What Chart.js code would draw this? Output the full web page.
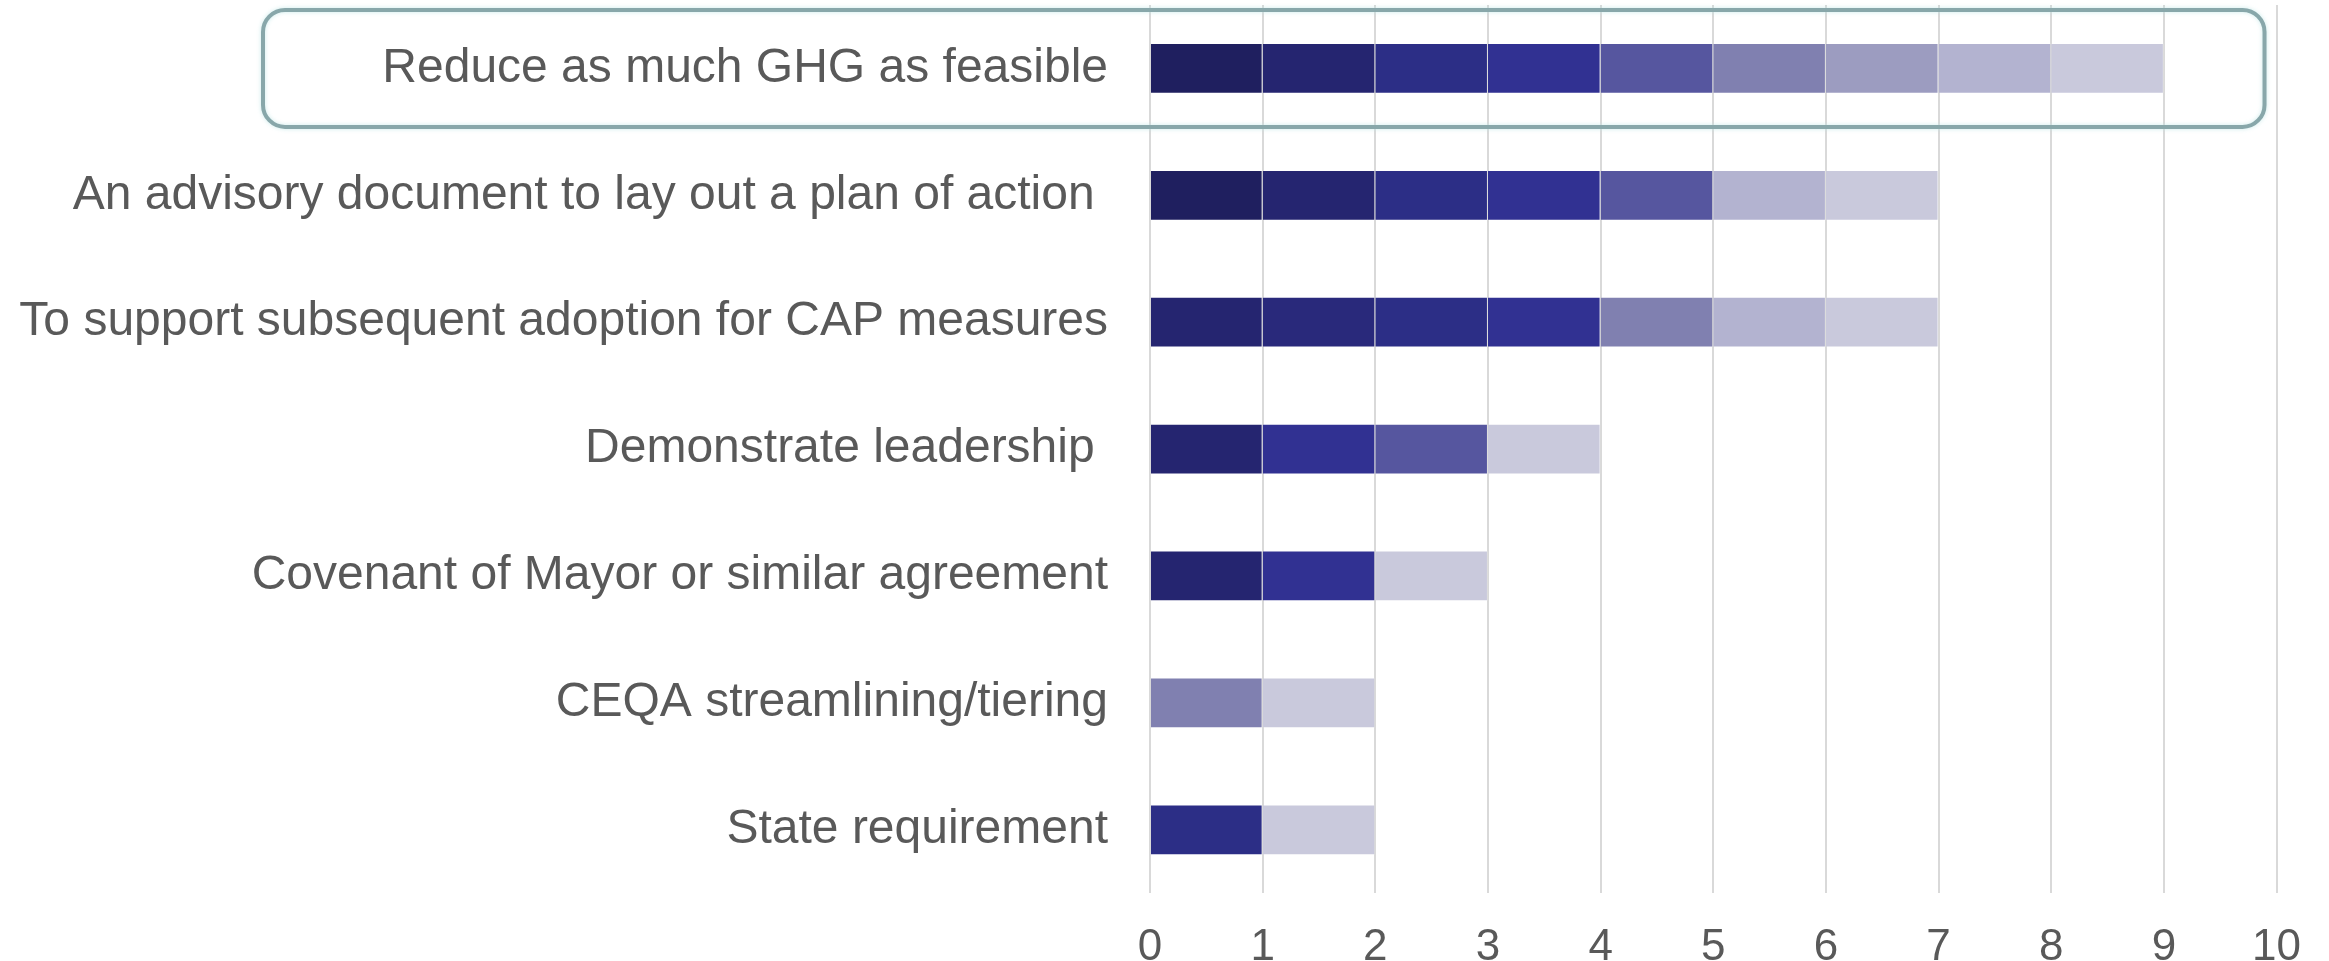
<!DOCTYPE html>
<html lang="en">
<head>
<meta charset="UTF-8">
<title>CAP motivations</title>
<script src="https://cdn.jsdelivr.net/npm/chart.js@4.4.1/dist/chart.umd.min.js"></script>
<style>
html, body {
    margin: 0;
    padding: 0;
    background: #ffffff;
    overflow: hidden;
}
#wrap {
    width: 2329px;
    height: 961px;
    overflow: hidden;
}
</style>
</head>
<body>

<div id="wrap">
    <canvas id="capChart" width="2329" height="1002"></canvas>
</div>

<script>
// categories, top to bottom (two of them end with a space in the source)
const categories = [
    "Reduce as much GHG as feasible",
    "An advisory document to lay out a plan of action ",
    "To support subsequent adoption for CAP measures",
    "Demonstrate leadership ",
    "Covenant of Mayor or similar agreement",
    "CEQA streamlining/tiering",
    "State requirement"
];

// one series per shade, darkest first (null = no segment)
const seriesNames = ["S1", "S2", "S3", "S4", "S5", "S6", "S7", "S8", "S9", "S10"];
const s1  = [1, 1, null, null, null, null, null];
const s2  = [1, 1, 1, 1, 1, null, null];
const s3  = [null, null, 1, null, null, null, null];
const s4  = [1, 1, 1, null, null, null, 1];
const s5  = [1, 1, 1, 1, 1, null, null];
const s6  = [1, 1, null, 1, null, null, null];
const s7  = [1, null, 1, null, null, 1, null];
const s8  = [1, null, null, null, null, null, null];
const s9  = [1, 1, 1, null, null, null, null];
const s10 = [1, 1, 1, 1, 1, 1, 1];

const xTicks = [0, 1, 2, 3, 4, 5, 6, 7, 8, 9, 10];

const shades = ["#1f1f5f", "#252570", "#29297b", "#2c2e86", "#313192",
                "#56569f", "#8080b0", "#9c9cc0", "#b3b3d0", "#c9c9dc"];

const seriesValues = [s1, s2, s3, s4, s5, s6, s7, s8, s9, s10];

const fontFamily = "'Liberation Sans', Arial, sans-serif";
const textColor = "#595959";

// rounded frame around the first category row
const highlightBox = {
    id: "highlightBox",
    afterDraw(chart, args, opts) {
        const ctx = chart.ctx;
        const y = chart.scales.y;
        const x = chart.scales.x;
        const mid = y.getPixelForValue(opts.index);
        const half = Math.abs(y.getPixelForValue(1) - y.getPixelForValue(0)) / 2 - 5;
        const left = opts.left;
        const right = x.getPixelForValue(x.max) - 12;
        ctx.save();
        ctx.shadowColor = "rgba(190, 230, 230, 0.8)";
        ctx.shadowBlur = 4;
        ctx.strokeStyle = opts.color;
        ctx.lineWidth = 4;
        ctx.beginPath();
        ctx.roundRect(left, mid - half, right - left, half * 2, 22);
        ctx.stroke();
        ctx.restore();
    }
};

const ctx = document.getElementById("capChart").getContext("2d");

const chart = new Chart(ctx, {
    type: "bar",
    data: {
        labels: categories,
        datasets: seriesValues.map((vals, i) => ({
            label: seriesNames[i],
            data: vals,
            backgroundColor: shades[i],
            borderColor: "rgba(255, 255, 255, 0.12)",
            borderWidth: 1,
            categoryPercentage: 0.8,
            barPercentage: 0.5
        }))
    },
    plugins: [highlightBox],
    options: {
        indexAxis: "y",
        responsive: false,
        animation: false,
        devicePixelRatio: 1,
        layout: {
            padding: { top: 5, right: 51, bottom: 0, left: 0 }
        },
        scales: {
            x: {
                stacked: true,
                min: 0,
                max: 10,
                afterBuildTicks(scale) {
                    scale.ticks = xTicks.map(v => ({ value: v }));
                },
                grid: {
                    color: "#d9d9d9",
                    lineWidth: 2,
                    drawTicks: false
                },
                border: { display: false },
                ticks: {
                    padding: 28,
                    color: textColor,
                    font: { family: fontFamily, size: 44 }
                }
            },
            y: {
                stacked: true,
                grid: { display: false, drawTicks: false },
                border: { display: false },
                ticks: {
                    padding: 42,
                    color: textColor,
                    font: { family: fontFamily, size: 48 }
                },
                afterFit(scale) {
                    scale.width = 1150;
                    scale.paddingTop = 0;
                    scale.paddingBottom = 0;
                }
            }
        },
        plugins: {
            legend: { display: false },
            tooltip: { enabled: false },
            highlightBox: { index: 0, left: 263, color: "#88a7aa" }
        }
    }
});
</script>
</body>
</html>
